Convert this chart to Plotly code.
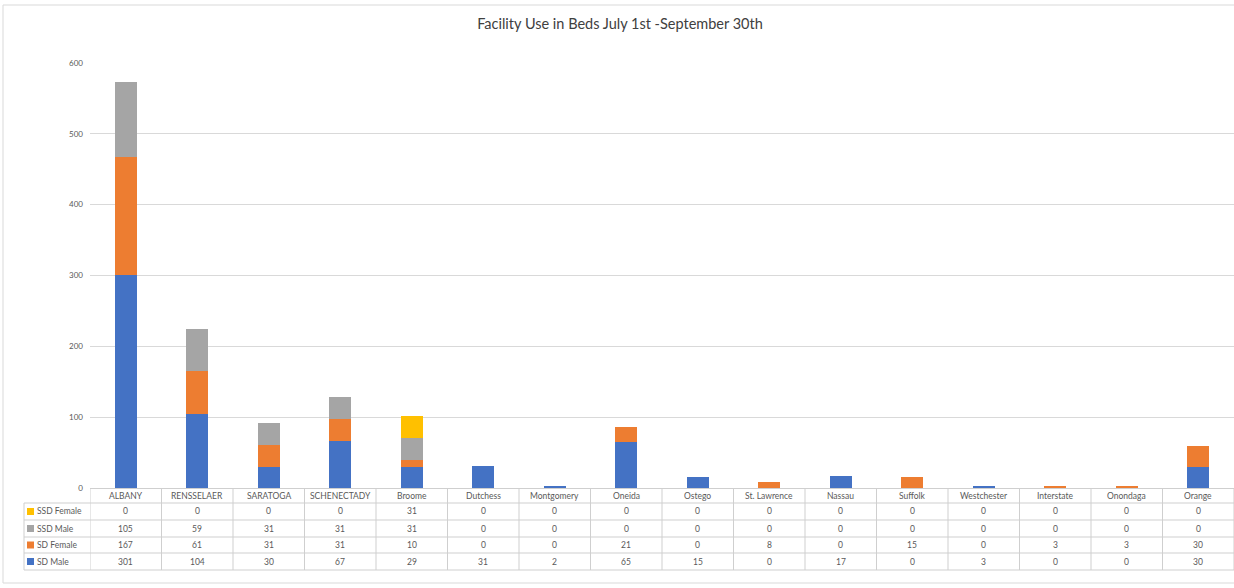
import plotly.graph_objects as go

categories = ["ALBANY", "RENSSELAER", "SARATOGA", "SCHENECTADY", "Broome", "Dutchess",
              "Montgomery", "Oneida", "Ostego", "St. Lawrence", "Nassau", "Suffolk",
              "Westchester", "Interstate", "Onondaga", "Orange"]
sd_male = [301, 104, 30, 67, 29, 31, 2, 65, 15, 0, 17, 0, 3, 0, 0, 30]
sd_female = [167, 61, 31, 31, 10, 0, 0, 21, 0, 8, 0, 15, 0, 3, 3, 30]
ssd_male = [105, 59, 31, 31, 31, 0, 0, 0, 0, 0, 0, 0, 0, 0, 0, 0]
ssd_female = [0, 0, 0, 0, 31, 0, 0, 0, 0, 0, 0, 0, 0, 0, 0, 0]
y_ticks = [0, 100, 200, 300, 400, 500, 600]

series = [("SD Male", sd_male, "#4472C4"),
          ("SD Female", sd_female, "#ED7D31"),
          ("SSD Male", ssd_male, "#A5A5A5"),
          ("SSD Female", ssd_female, "#FFC000")]

W, H = 1234, 588
L, R, T, B = 90, 0, 63, 100
PW, PH = W - L - R, H - T - B
FONT = "Lato, 'Open Sans', sans-serif"
TXT = "#595959"
LINE = "#cfcfcf"


def py(p):  # pixel row -> paper y
    return (H - B - p) / PH


def px(p):  # pixel col -> paper x
    return (p - L) / PW


fig = go.Figure()
for name, vals, col in series:
    fig.add_trace(go.Bar(x=categories, y=vals, name=name, marker_color=col,
                         marker_line_width=0, showlegend=False))

shapes = []
annotations = []
n = len(categories)
# table row boundaries (pixels)
rows_px = [503, 520, 537, 553, 570]
top_px = 488
# horizontal lines
for rp in rows_px:
    shapes.append(dict(type="line", xref="paper", yref="paper", x0=px(24), x1=1.0,
                       y0=py(rp), y1=py(rp), line=dict(color=LINE, width=1)))
# vertical lines
shapes.append(dict(type="line", xref="paper", yref="paper", x0=px(24), x1=px(24),
                   y0=py(503), y1=py(570), line=dict(color=LINE, width=1)))
for i in range(n + 1):
    shapes.append(dict(type="line", xref="x", yref="paper", x0=i - 0.5, x1=i - 0.5,
                       y0=py(top_px), y1=py(570), line=dict(color=LINE, width=1)))
# outer chart border
shapes.append(dict(type="rect", xref="paper", yref="paper", x0=px(3), x1=px(1240),
                   y0=py(583), y1=py(5), line=dict(color="#d9d9d9", width=1)))

# header row: category names
for c in categories:
    annotations.append(dict(x=c, y=py(496), xref="x", yref="paper", text=c,
                            xanchor="center", yanchor="middle", showarrow=False,
                            font=dict(size=8.5, color=TXT, family=FONT)))

# data rows (top to bottom: SSD Female, SSD Male, SD Female, SD Male)
table_rows = list(reversed(series))
for r, (name, vals, col) in enumerate(table_rows):
    yc = py((rows_px[r] + rows_px[r + 1]) / 2)
    shapes.append(dict(type="rect", xref="paper", yref="paper", x0=px(27), x1=px(34),
                       y0=yc - 3.5 / PH, y1=yc + 3.5 / PH, line=dict(width=0),
                       fillcolor=col))
    annotations.append(dict(x=px(35), y=yc, xref="paper", yref="paper", text=name,
                            xanchor="left", yanchor="middle", showarrow=False,
                            font=dict(size=8.5, color=TXT, family=FONT)))
    for c, v in zip(categories, vals):
        annotations.append(dict(x=c, y=yc, xref="x", yref="paper", text=str(v),
                                xanchor="center", yanchor="middle", showarrow=False,
                                font=dict(size=8.5, color=TXT, family=FONT)))

fig.update_layout(
    width=W, height=H,
    margin=dict(l=L, r=R, t=T, b=B, autoexpand=False),
    barmode="stack", bargap=0.69,
    paper_bgcolor="white", plot_bgcolor="white",
    title=dict(text="Facility Use in Beds July 1st -September 30th", x=620 / W,
               xref="container", xanchor="center", y=1 - 24 / H, yanchor="middle",
               font=dict(size=14.5, color="#404040", family=FONT)),
    xaxis=dict(showticklabels=False, showgrid=False, showline=True, linecolor=LINE,
               linewidth=1, range=[-0.5, n - 0.5], fixedrange=True),
    yaxis=dict(range=[0, 600], tickvals=y_ticks, showgrid=True, gridcolor="#d9d9d9",
               gridwidth=1, zeroline=False, showline=False, ticks="",
               ticklabelstandoff=6, tickfont=dict(size=8, color=TXT, family=FONT)),
    shapes=shapes, annotations=annotations,
)

fig.write_html("out.html")
